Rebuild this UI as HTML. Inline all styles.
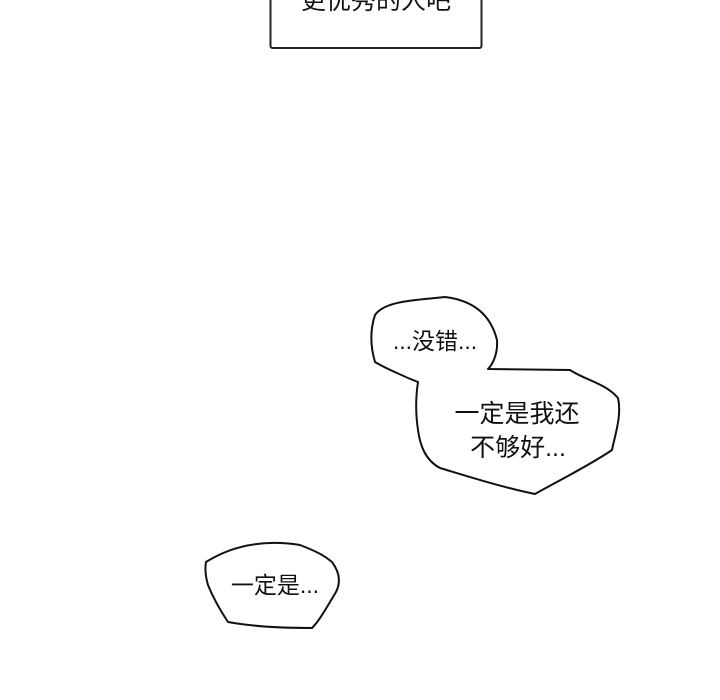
<!DOCTYPE html>
<html><head><meta charset="utf-8"><style>
html,body{margin:0;padding:0;background:#fff;}
body{width:720px;height:700px;overflow:hidden;position:relative;}
svg{position:absolute;left:0;top:0;}
text{font-family:"Liberation Sans","Noto Sans CJK SC",sans-serif;fill:#111;}
</style></head><body>
<svg width="720" height="700" viewBox="0 0 720 700">
<rect x="270.5" y="-10" width="211" height="58" rx="2" fill="#fff" stroke="#222" stroke-width="2"/>
<text x="376" y="9" font-size="25" text-anchor="middle">更优秀的人吧</text>
<path d="M375,315 C385,300 420,300 445,297 C470,300 490,312 497,340 C498,355 492,365 488,369 L570,370 C585,380 605,383 618,398 C622,415 615,435 612,450 C590,465 560,480 535,494 C505,488 470,477 440,468 C425,460 420,445 418,430 C415,410 416,395 418,382 L408,378 C395,372 385,368 375,362 C370,345 370,330 375,315 Z" fill="#fff" stroke="#111" stroke-width="2" stroke-linejoin="round"/>
<text x="435" y="349" font-size="23" text-anchor="middle">...没错...</text>
<text x="517" y="422" font-size="25" text-anchor="middle">一定是我还</text>
<text x="518" y="456" font-size="25" text-anchor="middle">不够好...</text>
<path d="M206,562 C225,550 255,538 300,545 C318,552 325,556 332,562 C338,570 342,580 336,592 C328,605 320,620 312,628 C285,628 255,627 228,622 C220,610 212,595 208,585 C205,575 205,568 206,562 Z" fill="#fff" stroke="#111" stroke-width="2" stroke-linejoin="round"/>
<text x="275" y="593" font-size="23" text-anchor="middle">一定是...</text>
</svg>
</body></html>
